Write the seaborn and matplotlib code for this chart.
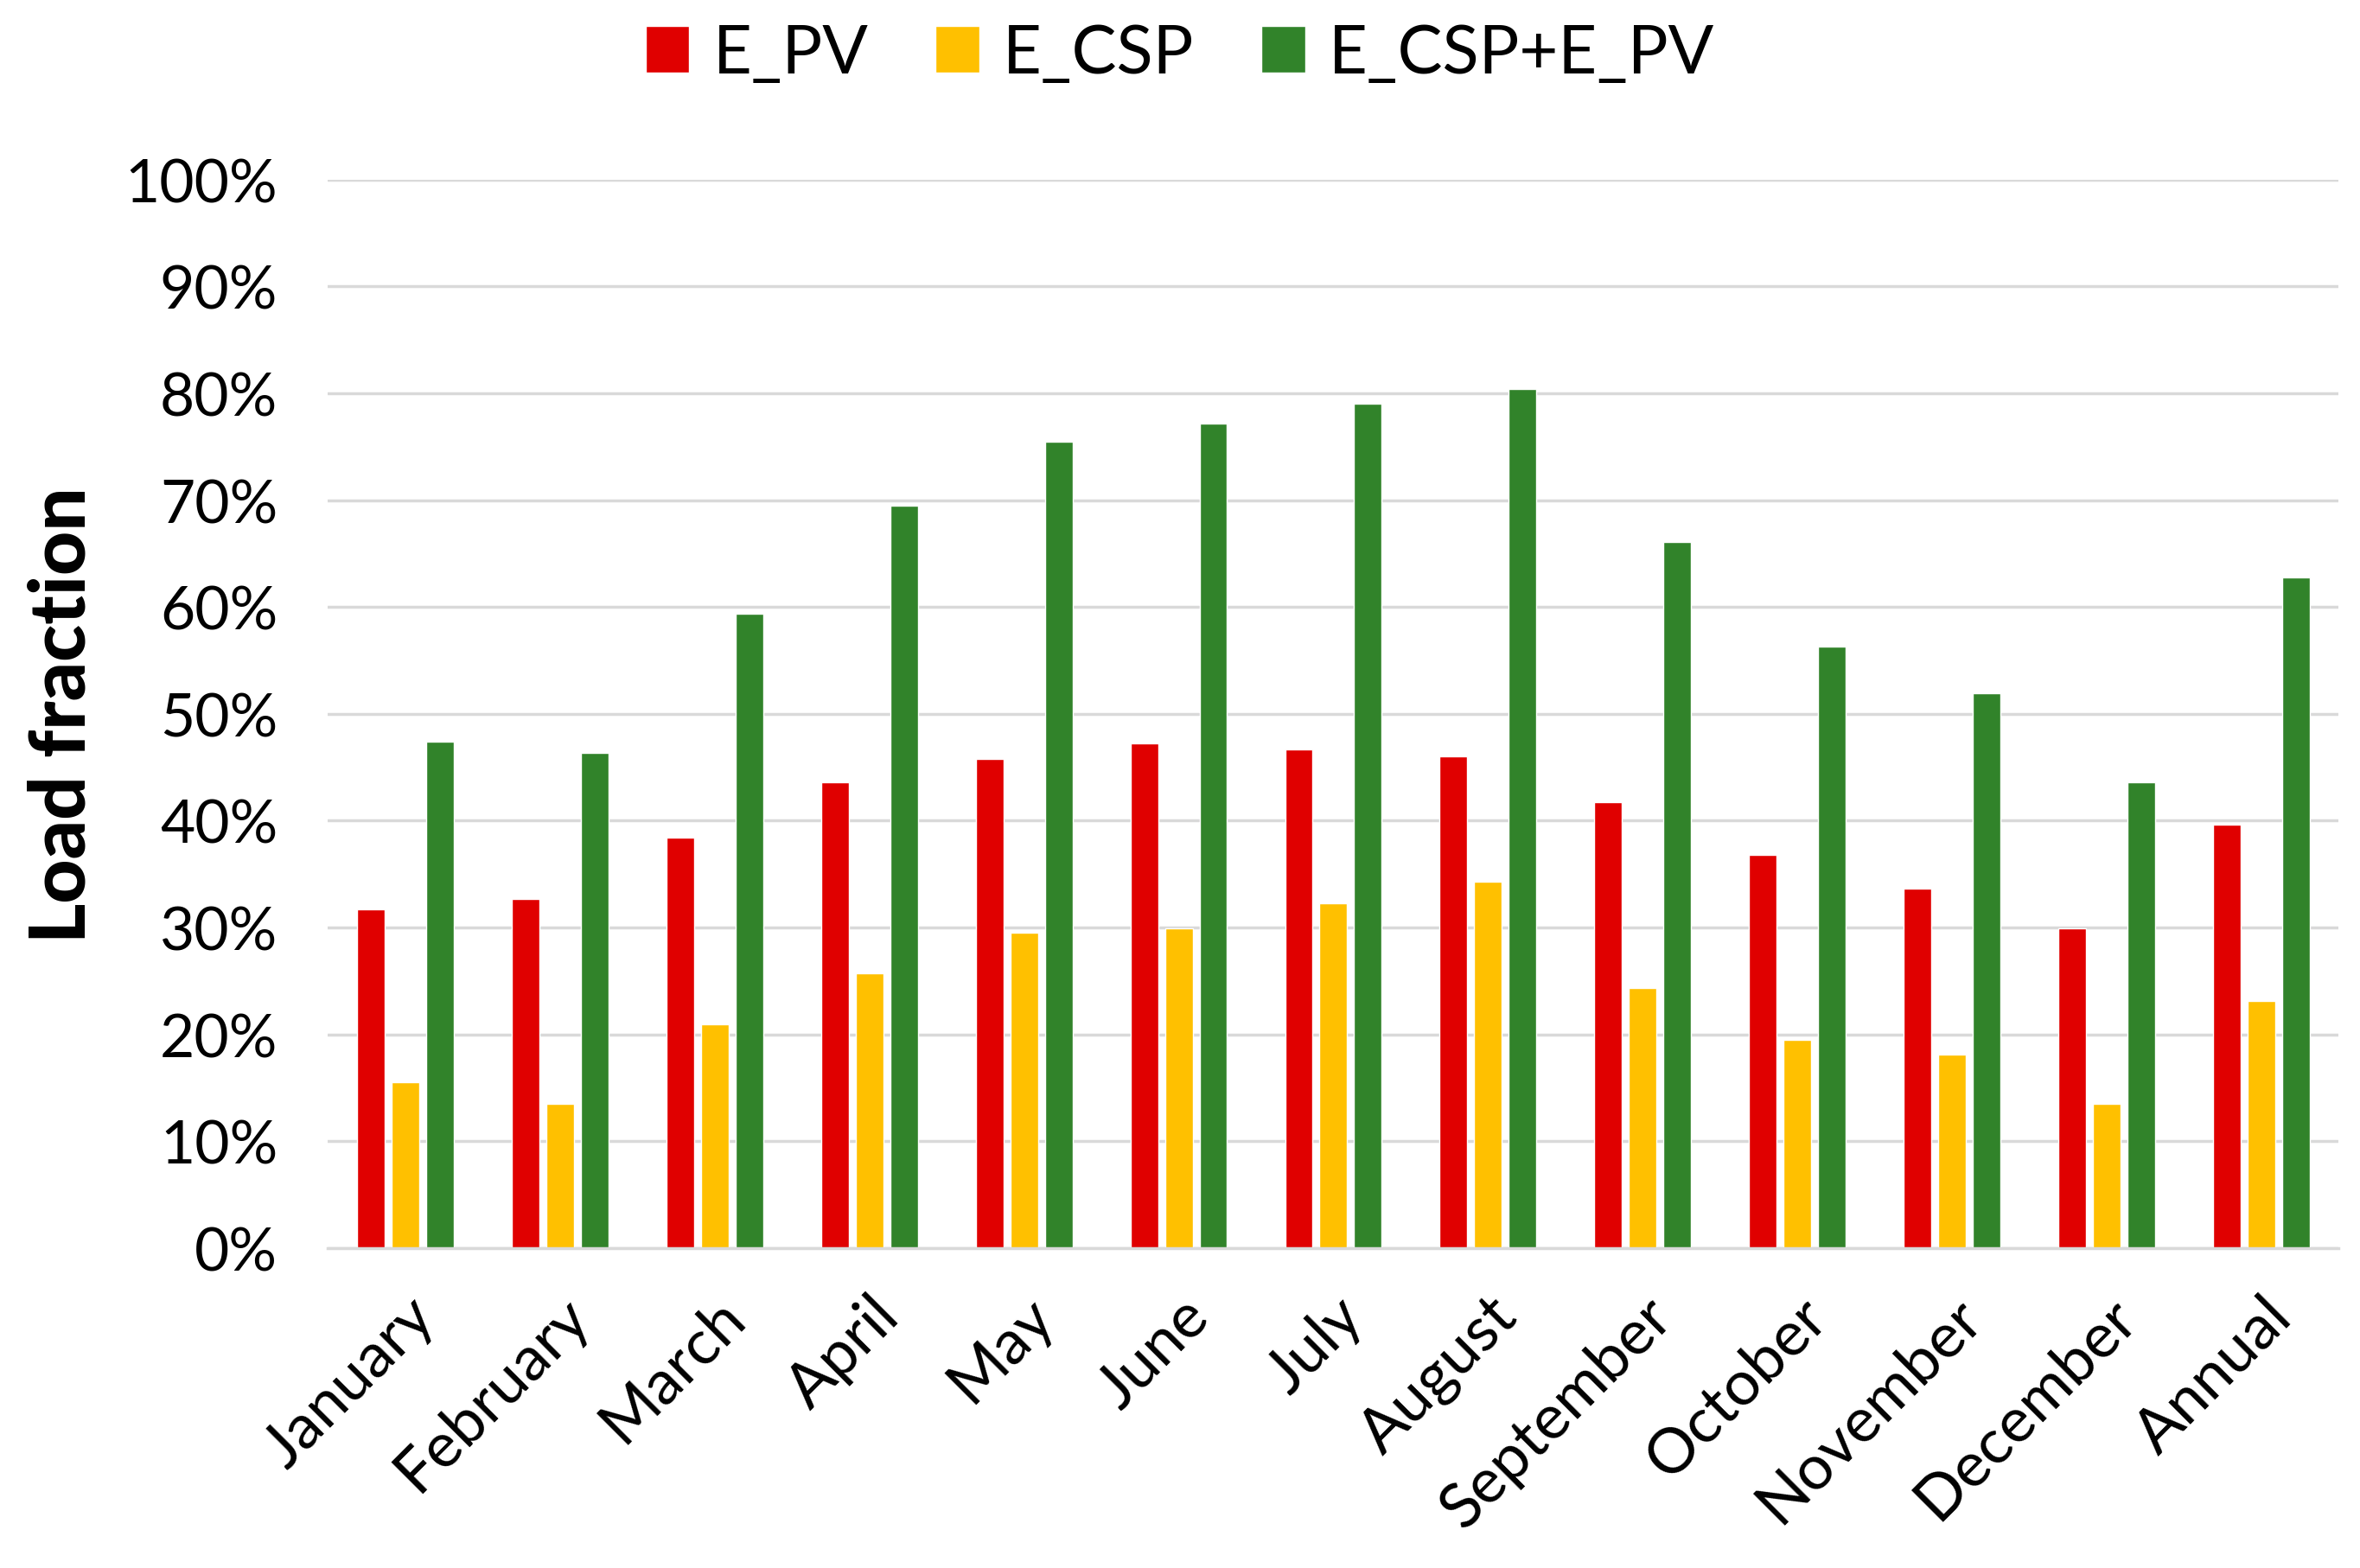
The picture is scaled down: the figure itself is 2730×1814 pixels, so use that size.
import matplotlib
matplotlib.use("Agg")
import matplotlib.pyplot as plt
import seaborn as sns
import pandas as pd
from matplotlib.ticker import PercentFormatter, MultipleLocator

months = ["January", "February", "March", "April", "May", "June", "July",
          "August", "September", "October", "November", "December", "Annual"]
e_pv = [31.7, 32.7, 38.4, 43.6, 45.8, 47.2, 46.7, 46.0, 41.7, 36.8, 33.6, 29.9, 39.6]
e_csp = [15.5, 13.5, 20.9, 25.7, 29.5, 29.9, 32.3, 34.3, 24.3, 19.5, 18.1, 13.5, 23.1]
e_sum = [47.4, 46.3, 59.4, 69.5, 75.5, 77.2, 79.0, 80.4, 66.1, 56.3, 51.9, 43.6, 62.8]
series = ["E_PV", "E_CSP", "E_CSP+E_PV"]
colors = ["#E00000", "#FFC000", "#31832A"]

rows = []
for name, vals in zip(series, [e_pv, e_csp, e_sum]):
    for m, v in zip(months, vals):
        rows.append({"Month": m, "Series": name, "Value": v})
df = pd.DataFrame(rows)

sns.set_theme(style="white")
plt.rcParams['font.family'] = ['Lato', 'DejaVu Sans']
plt.rcParams['text.color'] = 'black'
plt.rcParams['axes.labelcolor'] = 'black'

fig = plt.figure(figsize=(27.3, 18.15), dpi=100)
ax = fig.add_axes([0.139, 0.204, 0.852, 0.681])

sns.barplot(data=df, x="Month", y="Value", hue="Series", order=months,
            hue_order=series, palette=colors, width=0.67, gap=0.2,
            saturation=1, ax=ax, legend=True)

ax.set_ylim(0, 100)
ax.set_xlim(-0.5, len(months) - 0.5)
ax.yaxis.set_major_locator(MultipleLocator(10))
ax.yaxis.set_major_formatter(PercentFormatter(decimals=0))
ax.grid(axis="y", color="#D9D9D9", linewidth=2.5)
ax.set_axisbelow(True)
for s in ["top", "right", "left"]:
    ax.spines[s].set_visible(False)
ax.spines["bottom"].set_color("#D9D9D9")
ax.spines["bottom"].set_linewidth(2.5)
ax.tick_params(axis="y", length=0, labelsize=50, colors="black", pad=42)
ax.tick_params(axis="x", length=0, labelsize=52, colors="black", pad=32)
for lab in ax.get_xticklabels():
    lab.set_rotation(45)
    lab.set_ha("right")
    lab.set_rotation_mode("anchor")
ax.set_xlabel("")
ax.set_ylabel("Load fraction", fontsize=64, fontweight="black", color="black",
              labelpad=22)

handles, labels = ax.get_legend_handles_labels()
ax.get_legend().remove()
fig.legend(handles, labels, loc="center", bbox_to_anchor=(0.5, 0.965), ncol=3,
           frameon=False, fontsize=56, handlelength=0.65, handleheight=0.7,
           handletextpad=0.35, columnspacing=1.0, labelcolor="black")

fig.savefig("out.png", dpi=100, facecolor="white")
